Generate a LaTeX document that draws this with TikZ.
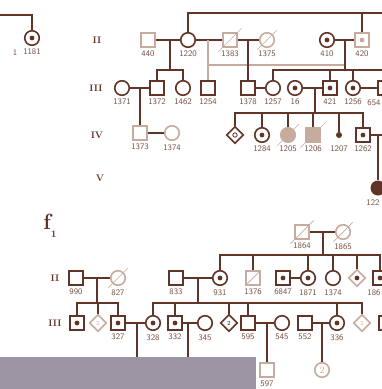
\documentclass[tikz,border=0pt]{standalone}
\usetikzlibrary{shapes.geometric}
\definecolor{pedi}{RGB}{96,52,38}
\definecolor{pedilt}{RGB}{198,172,158}
\definecolor{veil}{RGB}{156,150,164}
\tikzset{
  ln/.style={draw=pedi,line width=1.5pt},
  lln/.style={draw=pedilt,line width=1.5pt},
  slash/.style={draw=pedilt,line width=0.7pt},
  lbl/.style={font=\fontsize{8.5}{9}\selectfont\sffamily,text=pedi!85,inner sep=0pt},
  gen/.style={font=\fontsize{9.5}{10}\selectfont\bfseries,text=pedi},
  sq/.style={rectangle,draw=pedi,line width=1.6pt,fill=white,minimum size=13.5pt,inner sep=0pt},
  ci/.style={circle,draw=pedi,line width=1.6pt,fill=white,minimum size=14.5pt,inner sep=0pt},
  dm/.style={diamond,draw=pedi,line width=1.6pt,fill=white,minimum size=17pt,inner sep=0pt,font=\fontsize{6}{6}\selectfont\sffamily},
  pale/.style={draw=pedilt,text=pedilt},
  shade/.style={draw=pedilt,fill=pedilt},
  carrier/.style={path picture={\fill[pedi] (path picture bounding box.center) circle (2.4pt);}},
  palecarrier/.style={path picture={\fill[pedilt] (path picture bounding box.center) circle (2.4pt);}},
  ring/.style={path picture={\draw[pedi,line width=0.8pt] (path picture bounding box.center) circle (2.2pt);}},
  every label/.style={lbl},
  label distance=3pt,
}

\begin{document}
\begin{tikzpicture}[x=1pt,y=-1pt]
  \useasboundingbox (0,0) rectangle (382,389);
  \clip (0,0) rectangle (382,389);

  % generation labels
  \node[gen] (gII) at (97,40) {II};
  \node[gen] (gIII) at (96,88) {III};
  \node[gen] (gIV) at (97,135) {IV};
  \node[gen] (gV) at (100,178) {V};
  \node[text=pedi,font=\fontsize{22}{22}\selectfont\bfseries] (f1) at (50,226) {f\raisebox{-8pt}{\fontsize{10}{10}\selectfont 1}};
  \node[gen] (fII) at (55,278) {II};
  \node[gen] (fIII) at (55,323) {III};

  % first pedigree
  \node[ci,carrier,label=below:1181] (n1181) at (32,38) {};
  \node[lbl] (t1) at (15,53) {1};
  \node[sq,pale,label=below:440] (n440) at (148,40) {};
  \node[ci,label=below:1220] (n1220) at (188,40) {};
  \node[sq,pale,label=below:1383] (n1383) at (230,40) {};
  \node[ci,pale,label=below:1375] (n1375) at (267,40) {};
  \node[ci,carrier,label=below:410] (n410) at (327,40) {};
  \node[sq,pale,palecarrier,label=below:420] (n420) at (362,40) {};

  \node[ci,label=below:1371] (n1371) at (122,88) {};
  \node[sq,label=below:1372] (n1372) at (157,88) {};
  \node[ci,label=below:1462] (n1462) at (183,88) {};
  \node[sq,label=below:1254] (n1254) at (208,88) {};
  \node[sq,label=below:1378] (n1378) at (248,88) {};
  \node[ci,label=below:1257] (n1257) at (273,88) {};
  \node[ci,carrier,label=below:16] (n16) at (295,88) {};
  \node[sq,carrier,label=below:421] (n421) at (330,88) {};
  \node[ci,carrier,label=below:1256] (n1256) at (353,88) {};
  \node[sq] (n654) at (385,88) {};
  \node[lbl] (t654) at (374,103) {654};

  \node[sq,pale,label=below:1373] (n1373) at (140,133) {};
  \node[ci,pale,label=below:1374] (n1374) at (172,133) {};
  \node[dm,ring] (nd1) at (235,135) {};
  \node[ci,carrier,label=below:1284] (n1284) at (262,135) {};
  \node[ci,shade,label=below:1205] (n1205) at (288,135) {};
  \node[sq,shade,label=below:1206] (n1206) at (313,135) {};
  \node[circle,fill=pedi,minimum size=6pt,inner sep=0pt,label={[label distance=7pt]below:1207}] (n1207) at (339,135) {};
  \node[sq,carrier,label=below:1262] (n1262) at (363,135) {};
  \node[circle,fill=pedi,minimum size=15pt,inner sep=0pt] (n122) at (378,188) {};
  \node[lbl] (t122) at (373,203) {122};

  \coordinate (lt) at (0,15);
  \coordinate (topR) at (382,13);
  \coordinate (top420) at (362,13);
  \draw[ln] (lt) -| (n1181);
  \draw[ln] (n1220) |- (topR);
  \draw[ln] (n420) -- (top420);

  \draw[ln] (n440) -- (n1220);
  \coordinate (m1) at (170,40);
  \coordinate (s1) at (170,70);
  \draw[ln] (m1) -- (s1);
  \draw[ln] (n1372) |- (s1) -| (n1462);

  \draw[ln] (n1220) -- (n1383);
  \coordinate (m2) at (208,40);
  \coordinate (h2a) at (208,65);
  \coordinate (h2b) at (345,65);
  \draw[lln] (m2) -- (n1254);
  \draw[lln] (h2a) -- (h2b);

  \draw[ln] (n1383) -- (n1375);
  \coordinate (m3) at (248,40);
  \draw[ln] (m3) -- (n1378);
  \draw[slash] ([shift={(-4pt,-4pt)}]n1383.south west) -- ([shift={(4pt,4pt)}]n1383.north east);
  \draw[slash] ([shift={(-4pt,-4pt)}]n1375.south west) -- ([shift={(4pt,4pt)}]n1375.north east);

  \draw[ln] (n410) -- (n420);
  \coordinate (m4) at (345,40);
  \coordinate (s4) at (345,70);
  \coordinate (s4r) at (382,70);
  \draw[ln] (m4) -- (s4);
  \draw[ln] (n1257) |- (s4r);
  \foreach \k in {n421,n1256,n654} \draw[ln] (\k) -- (\k|-s4);

  \draw[ln] (n1371) -- (n1372);
  \coordinate (m5) at (140,88);
  \draw[ln] (m5) -- (n1373);
  \draw[ln] (n1373) -- (n1374);
  \draw[ln] (n1378) -- (n1257);
  \draw[ln] (n16) -- (n421);
  \draw[ln] (n1256) -- (n654);
  \coordinate (m6) at (315,88);
  \coordinate (s6) at (315,113);
  \draw[ln] (m6) -- (s6);
  \draw[ln] (nd1) |- (n1262|-s6) -- (n1262);
  \foreach \k in {n1284,n1205,n1206,n1207} \draw[ln] (\k) -- (\k|-s6);
  \draw[slash] ([shift={(-5pt,-5pt)}]n1205.south west) -- ([shift={(5pt,5pt)}]n1205.north east);
  \draw[slash] ([shift={(-5pt,-5pt)}]n1206.south west) -- ([shift={(5pt,5pt)}]n1206.north east);

  \coordinate (r1) at (382,135);
  \coordinate (m7) at (378,135);
  \draw[ln] (n1262) -- (r1);
  \draw[ln] (m7) -- (n122);

  % second pedigree
  \node[sq,pale,label=below:1864] (n1864) at (302,232) {};
  \node[ci,pale,label=below:1865] (n1865) at (343,232) {};

  \node[sq,label=below:990] (n990) at (76,278) {};
  \node[ci,pale,label=below:827] (n827) at (118,278) {};
  \node[sq,label=below:833] (n933) at (176,278) {};
  \node[ci,carrier,label=below:931] (n931) at (220,278) {};
  \node[sq,pale,label=below:1376] (n1376) at (253,278) {};
  \node[sq,carrier,label=below:6847] (n6847) at (283,278) {};
  \node[ci,carrier,label=below:1871] (n1871) at (308,278) {};
  \node[ci,label=below:1374] (n1374b) at (333,278) {};
  \node[dm,pale,carrier] (nd2) at (357,278) {};
  \node[sq,carrier] (n186) at (380,278) {};
  \node[lbl] (t186) at (374,293) {186};

  \node[sq,carrier] (nIIIa) at (77,323) {};
  \node[dm,pale] (nd3) at (98,323) {2};
  \node[sq,carrier,label=below:327] (n327) at (118,323) {};
  \node[ci,carrier,label=below:328] (n328) at (153,323) {};
  \node[sq,carrier,label=below:332] (n332) at (175,323) {};
  \node[ci,label=below:345] (n345) at (205,323) {};
  \node[dm] (nd4) at (229,323) {2};
  \node[sq,label=below:595] (n595) at (248,323) {};
  \node[ci,label=below:545] (n545) at (282,323) {};
  \node[sq,label=below:552] (n552) at (305,323) {};
  \node[ci,carrier,label=below:336] (n336) at (337,323) {};
  \node[dm,pale] (nd5) at (362,323) {2};
  \node[sq] (nIIIb) at (386,323) {};

  \node[sq,pale,label=below:597] (n597) at (267,370) {};
  \node[ci,pale] (n2c) at (322,370) {2};

  \draw[ln] (n1864) -- (n1865);
  \draw[slash] ([shift={(-4pt,-4pt)}]n1864.south west) -- ([shift={(4pt,4pt)}]n1864.north east);
  \draw[slash] ([shift={(-4pt,-4pt)}]n1865.south west) -- ([shift={(4pt,4pt)}]n1865.north east);
  \coordinate (m8) at (323,232);
  \coordinate (s8) at (323,255);
  \draw[ln] (m8) -- (s8);
  \draw[ln] (n931) |- (n186|-s8) -- (n186);
  \foreach \k in {n1376,n1871,n1374b,nd2} \draw[ln] (\k) -- (\k|-s8);
  \draw[slash] (n1376.south west) -- (n1376.north east);

  \draw[ln] (n990) -- (n827);
  \draw[slash] ([shift={(-4pt,-4pt)}]n827.south west) -- ([shift={(4pt,4pt)}]n827.north east);
  \coordinate (m9) at (97,278);
  \coordinate (s9) at (97,303);
  \draw[ln] (m9) -- (s9);
  \draw[ln] (nIIIa) |- (s9) -| (n327);
  \draw[ln] (nd3) -- (nd3|-s9);

  \draw[ln] (n933) -- (n931);
  \draw[ln] (n6847) -- (n1871);
  \coordinate (m10) at (198,278);
  \coordinate (s10) at (198,303);
  \draw[ln] (m10) -- (s10);
  \draw[ln] (n328) |- (nd5|-s10) -- (nd5);
  \foreach \k in {n332,nd4,n595,n336} \draw[ln] (\k) -- (\k|-s10);

  \draw[ln] (n327) -- (n328);
  \coordinate (m11) at (137,323);
  \coordinate (e11) at (137,389);
  \draw[ln] (m11) -- (e11);
  \draw[ln] (n332) -- (n345);
  \coordinate (m12) at (188,323);
  \coordinate (e12) at (188,389);
  \draw[ln] (m12) -- (e12);
  \draw[ln] (n595) -- (n545);
  \coordinate (m13) at (267,323);
  \draw[ln] (m13) -- (n597);
  \draw[ln] (n552) -- (n336);
  \coordinate (m14) at (322,323);
  \draw[ln] (m14) -- (n2c);

  \fill[veil] (0,357) rectangle (256,389);
\end{tikzpicture}
\end{document}
